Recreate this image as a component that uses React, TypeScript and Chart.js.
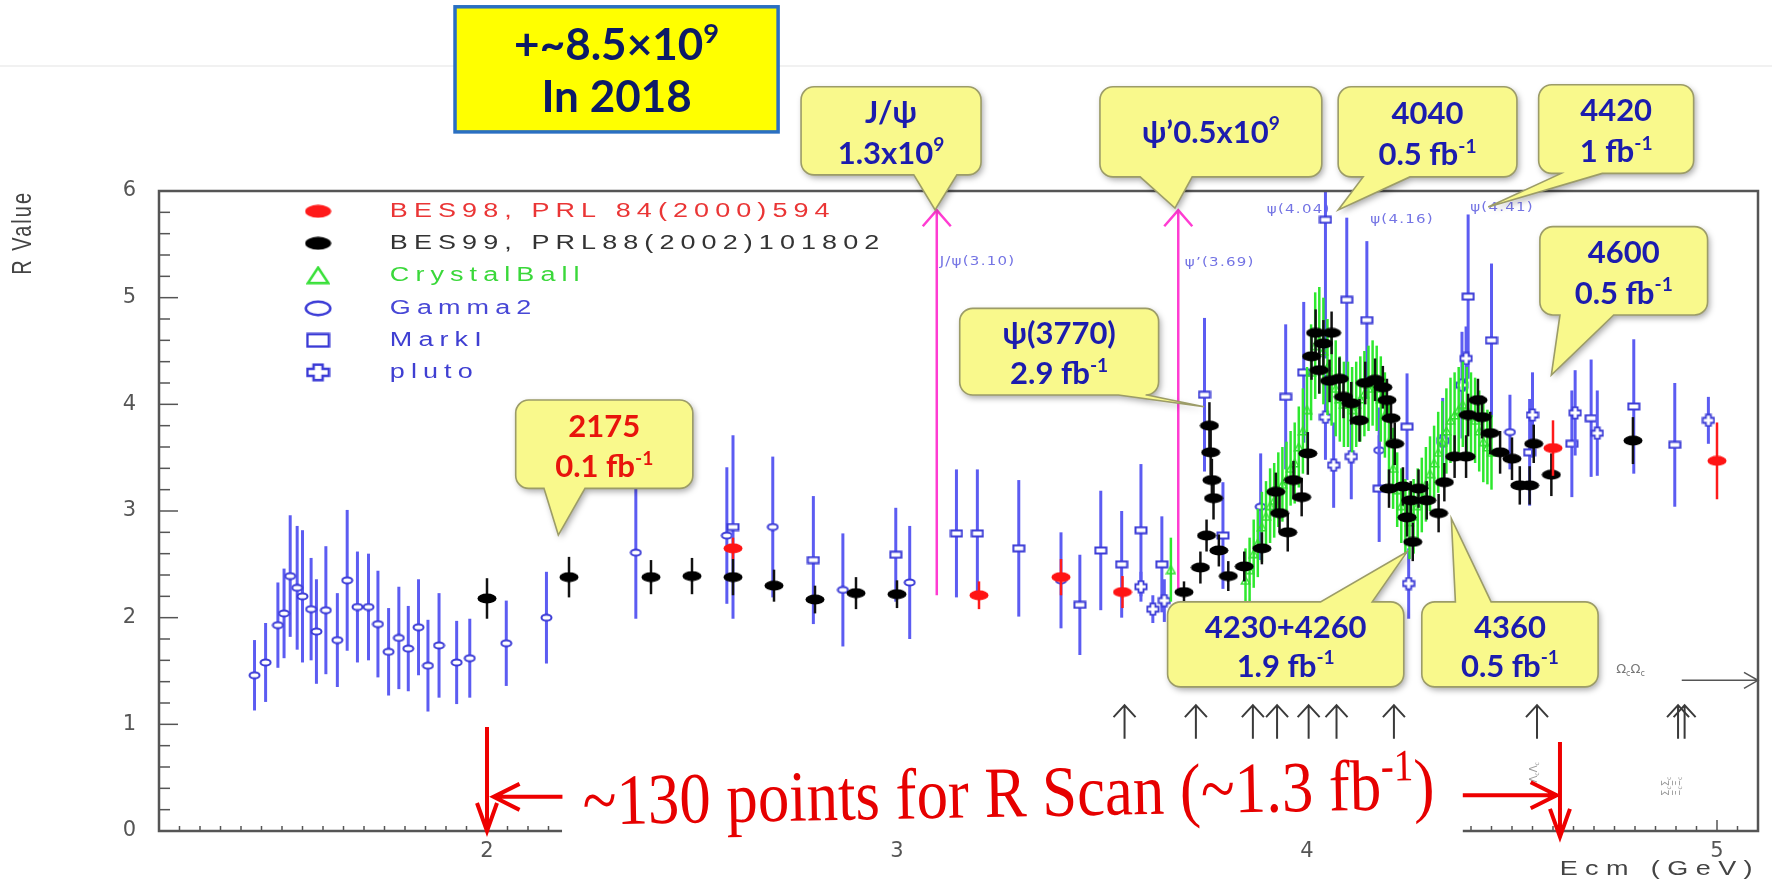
import React, { useEffect, useRef } from "react";
import { Chart, registerables } from "chart.js";

Chart.register(...registerables);

// ---------------- axes ----------------
const X_MIN = 1.2;
const X_MAX = 5.1;
const Y_MIN = 0;
const Y_MAX = 6;
const X_TICKS = [2, 3, 4, 5];
const Y_TICKS = [0, 1, 2, 3, 4, 5, 6];

// ---------------- data (Ecm in GeV, R value, error) ----------------
const BES98_E = [2.6, 3.2, 3.4, 3.55, 4.6, 5.0];
const BES98_R = [2.65, 2.21, 2.38, 2.24, 3.59, 3.47];
const BES98_ERR = [0.1, 0.13, 0.17, 0.15, 0.26, 0.36];

const BES99_E = [2.0, 2.2, 2.4, 2.5, 2.6, 2.7, 2.8, 2.9, 3.0, 3.7, 3.74, 3.755, 3.762, 3.765, 3.768, 3.772, 3.785, 3.808, 3.847, 3.89, 3.924, 3.933, 3.953, 3.967, 3.987, 4.002, 4.011, 4.021, 4.03, 4.04, 4.055, 4.06, 4.079, 4.089, 4.108, 4.128, 4.142, 4.166, 4.185, 4.195, 4.2, 4.205, 4.214, 4.234, 4.244, 4.253, 4.258, 4.272, 4.292, 4.321, 4.335, 4.36, 4.388, 4.393, 4.417, 4.427, 4.447, 4.471, 4.5, 4.519, 4.543, 4.553, 4.596, 4.795];
const BES99_R = [2.18, 2.38, 2.38, 2.39, 2.38, 2.30, 2.17, 2.23, 2.22, 2.24, 2.47, 2.77, 3.80, 3.55, 3.29, 3.12, 2.63, 2.39, 2.48, 2.65, 3.18, 2.98, 2.80, 3.29, 3.13, 3.54, 4.45, 4.67, 4.32, 4.57, 4.22, 4.67, 4.24, 4.07, 4.01, 3.85, 4.20, 4.23, 4.16, 4.04, 3.21, 3.87, 3.63, 3.23, 2.94, 3.10, 2.71, 3.21, 3.10, 2.98, 3.27, 3.51, 3.51, 3.90, 4.04, 3.88, 3.73, 3.55, 3.49, 3.24, 3.24, 3.63, 3.34, 3.66];
const BES99_ERR = [0.19, 0.19, 0.16, 0.17, 0.17, 0.15, 0.13, 0.15, 0.13, 0.10, 0.15, 0.15, 0.22, 0.22, 0.20, 0.20, 0.15, 0.14, 0.14, 0.15, 0.18, 0.18, 0.18, 0.18, 0.18, 0.20, 0.22, 0.22, 0.22, 0.22, 0.20, 0.20, 0.20, 0.20, 0.20, 0.20, 0.20, 0.20, 0.20, 0.20, 0.18, 0.20, 0.20, 0.18, 0.18, 0.18, 0.18, 0.18, 0.18, 0.18, 0.18, 0.20, 0.20, 0.20, 0.20, 0.20, 0.20, 0.20, 0.20, 0.18, 0.18, 0.18, 0.20, 0.22];

const CB_E = [3.668, 3.85, 3.86, 3.87, 3.88, 3.89, 3.90, 3.91, 3.92, 3.93, 3.94, 3.95, 3.96, 3.97, 3.98, 3.99, 4.00, 4.01, 4.02, 4.03, 4.04, 4.05, 4.06, 4.07, 4.08, 4.09, 4.10, 4.11, 4.12, 4.13, 4.14, 4.15, 4.16, 4.17, 4.18, 4.19, 4.20, 4.21, 4.22, 4.23, 4.24, 4.25, 4.26, 4.27, 4.28, 4.29, 4.30, 4.31, 4.32, 4.33, 4.34, 4.35, 4.36, 4.37, 4.38, 4.39, 4.40, 4.41, 4.42, 4.43, 4.44, 4.45];
const CB_R = [2.45, 2.35, 2.45, 2.60, 2.70, 2.85, 2.95, 3.05, 3.10, 3.20, 3.25, 3.30, 3.40, 3.45, 3.60, 3.75, 3.95, 4.30, 4.55, 4.60, 4.50, 4.35, 4.25, 4.15, 4.05, 4.00, 4.00, 3.95, 4.00, 4.05, 4.10, 4.15, 4.20, 4.15, 4.05, 3.90, 3.65, 3.40, 3.20, 3.05, 2.95, 2.90, 2.95, 3.05, 3.15, 3.25, 3.35, 3.45, 3.55, 3.65, 3.75, 3.85, 3.90, 3.95, 4.00, 3.95, 3.90, 3.85, 3.75, 3.65, 3.60, 3.55];
const CB_ERR = [0.30, 0.30, 0.30, 0.32, 0.32, 0.33, 0.33, 0.35, 0.35, 0.35, 0.35, 0.35, 0.35, 0.38, 0.38, 0.40, 0.40, 0.45, 0.50, 0.50, 0.50, 0.45, 0.45, 0.45, 0.40, 0.40, 0.40, 0.40, 0.40, 0.40, 0.40, 0.40, 0.40, 0.40, 0.40, 0.40, 0.40, 0.38, 0.35, 0.35, 0.35, 0.35, 0.35, 0.35, 0.35, 0.35, 0.35, 0.35, 0.38, 0.38, 0.40, 0.40, 0.40, 0.40, 0.40, 0.40, 0.40, 0.40, 0.38, 0.38, 0.35, 0.35];

const GAMMA2_E = [1.433, 1.46, 1.49, 1.505, 1.52, 1.537, 1.55, 1.571, 1.584, 1.607, 1.635, 1.659, 1.684, 1.711, 1.734, 1.76, 1.785, 1.808, 1.833, 1.856, 1.883, 1.926, 1.958, 2.047, 2.145, 2.363, 2.585, 2.697, 2.868, 3.031, 3.4, 3.887, 4.176, 4.495];
const GAMMA2_R = [1.46, 1.58, 1.93, 2.04, 2.39, 2.28, 2.20, 2.08, 1.87, 2.07, 1.79, 2.35, 2.10, 2.10, 1.94, 1.68, 1.81, 1.71, 1.91, 1.55, 1.74, 1.58, 1.62, 1.76, 2.00, 2.61, 2.77, 2.85, 2.26, 2.33, 2.35, 3.04, 3.57, 3.74];
const GAMMA2_ERR = [0.33, 0.37, 0.40, 0.42, 0.57, 0.58, 0.62, 0.48, 0.49, 0.60, 0.44, 0.66, 0.52, 0.50, 0.50, 0.41, 0.48, 0.40, 0.45, 0.43, 0.49, 0.39, 0.37, 0.40, 0.43, 0.62, 0.64, 0.66, 0.53, 0.53, 0.45, 0.50, 0.40, 0.35];

const MARKI_E = [2.6, 2.796, 2.997, 3.145, 3.196, 3.297, 3.446, 3.497, 3.548, 3.595, 3.646, 3.75, 3.795, 3.948, 3.992, 4.045, 4.097, 4.146, 4.176, 4.244, 4.393, 4.45, 4.543, 4.646, 4.693, 4.797, 4.897];
const MARKI_R = [2.85, 2.54, 2.59, 2.79, 2.79, 2.65, 2.12, 2.63, 2.50, 2.82, 2.50, 4.09, 2.77, 4.07, 4.30, 5.73, 4.98, 4.79, 3.21, 3.79, 5.01, 4.60, 3.55, 3.63, 3.87, 3.98, 3.62];
const MARKI_ERR = [0.86, 0.60, 0.44, 0.60, 0.60, 0.64, 0.47, 0.56, 0.50, 0.62, 0.45, 0.72, 0.50, 0.68, 0.66, 1.30, 0.77, 0.74, 0.50, 0.50, 0.77, 0.72, 0.50, 0.50, 0.55, 0.63, 0.58];

const PLUTO_E = [3.595, 3.624, 3.652, 4.045, 4.065, 4.108, 4.248, 4.331, 4.378, 4.388, 4.55, 4.654, 4.708, 4.979];
const PLUTO_R = [2.29, 2.08, 2.16, 3.88, 3.43, 3.51, 2.32, 3.66, 4.18, 4.43, 3.90, 3.92, 3.73, 3.85];
const PLUTO_ERR = [0.14, 0.13, 0.20, 0.40, 0.40, 0.40, 0.33, 0.40, 0.50, 0.30, 0.40, 0.40, 0.40, 0.22];

const LEGEND_LABELS = ["BES98, PRL 84(2000)594", "BES99, PRL88(2002)101802", "CrystalBall", "Gamma2", "MarkI", "pluto"];

// ---------------- annotations (in data coordinates) ----------------
const RESONANCE_E = [3.097, 3.686];
const RESONANCE_LOW = [2.21, 2.23];
const RESONANCE_TIP = 5.82;
const RES_LABEL_TEXT = ["J/ψ(3.10)", "ψ’(3.69)", "ψ(4.04)", "ψ(4.16)", "ψ(4.41)"];
const RES_LABEL_E = [3.104, 3.702, 3.902, 4.154, 4.398];
const RES_LABEL_R = [5.34, 5.33, 5.82, 5.73, 5.84];

const THRESHOLD_E = [3.555, 3.729, 3.868, 3.927, 4.004, 4.072, 4.212, 4.561, 4.905, 4.921];
const THRESHOLD_LOW = 0.866;
const THRESHOLD_TIP = 1.18;

const TINY_TEXT = ["Λ_{c}Λ_{c}", "Σ_{c}Σ_{c}", "Ξ_{c}Ξ_{c}"];
const TINY_E = [4.552, 4.872, 4.9];
const TINY_R = [0.55, 0.42, 0.42];

const NAVY = "#1c1cae";
const CALLOUTS = [
  { lines: ["J/ψ", "1.3x10^{9}"], e1: 2.766, e2: 3.205, rTop: 6.977, rBot: 6.151, tail: [3.041, 3.146, 3.093, 5.822], color: NAVY },
  { lines: ["ψ’0.5x10^{9}"], e1: 3.495, e2: 4.036, rTop: 6.977, rBot: 6.132, tail: [3.593, 3.72, 3.678, 5.84], color: NAVY },
  { lines: ["4040", "0.5 fb^{-1}"], e1: 4.076, e2: 4.512, rTop: 6.977, rBot: 6.132, tail: [4.137, 4.251, 4.076, 5.822], color: NAVY },
  { lines: ["4420", "1 fb^{-1}"], e1: 4.565, e2: 4.943, rTop: 6.996, rBot: 6.165, tail: [4.62, 4.72, 4.442, 5.85], color: NAVY },
  { lines: ["4600", "0.5 fb^{-1}"], e1: 4.568, e2: 4.977, rTop: 5.666, rBot: 4.838, tail: [4.617, 4.748, 4.596, 4.275], color: NAVY },
  { lines: ["ψ(3770)", "2.9 fb^{-1}"], e1: 3.153, e2: 3.638, rTop: 4.9, rBot: 4.087, tail: [3.54, 3.61, 3.749, 3.977], color: NAVY },
  { lines: ["2175", "0.1 fb^{-1}"], e1: 2.07, e2: 2.502, rTop: 4.04, rBot: 3.212, tail: [2.139, 2.239, 2.174, 2.774], color: "#e8140c" },
  { lines: ["4230+4260", "1.9 fb^{-1}"], e1: 3.66, e2: 4.236, rTop: 2.148, rBot: 1.351, tail: [4.033, 4.159, 4.244, 2.617], color: NAVY },
  { lines: ["4360", "0.5 fb^{-1}"], e1: 4.28, e2: 4.71, rTop: 2.148, rBot: 1.351, tail: [4.362, 4.449, 4.352, 2.93], color: NAVY },
];
const TOP_BOX = { lines: ["+~8.5×10^{9}", "In 2018"], e1: 1.922, e2: 2.71, rTop: 7.727, rBot: 6.554 };
const SEPARATOR_R = 7.173;

const SCAN_TEXT = "~130 points for R Scan (~1.3 fb^{-1})";
const SCAN_START = [2.234, 0.06];
const SCAN_END = [4.312, 0.21];
const SCAN_BOX = [2.183, 4.38, -0.07, 0.8];
const RED_VERT = [[2.0, 0.975, 0.0], [4.617, 0.835, -0.055]];
const RED_HORIZ = [[0.32, 2.184, 2.016], [0.335, 4.38, 4.609]];

const OMEGA_ARROW = [4.914, 1.413];
const OMEGA_LABEL = [4.754, 1.525];

// ---------------- helpers ----------------
function parseRich(s: string) {
  const out: { t: string; k: number }[] = [];
  const re = /\^\{([^}]*)\}|_\{([^}]*)\}/g;
  let last = 0;
  let m: any;
  while ((m = re.exec(s))) {
    if (m.index > last) out.push({ t: s.slice(last, m.index), k: 0 });
    if (m[1] !== undefined) out.push({ t: m[1], k: 1 });
    else out.push({ t: m[2], k: 2 });
    last = re.lastIndex;
  }
  if (last < s.length) out.push({ t: s.slice(last), k: 0 });
  return out;
}

function richText(ctx: any, s: string, x: number, y: number, size: number, font: (sz: number) => string, align: string, draw = true) {
  const segs = parseRich(s);
  const widths = segs.map((sg) => {
    ctx.font = font(sg.k ? size * 0.62 : size);
    return ctx.measureText(sg.t).width;
  });
  const total = widths.reduce((a, b) => a + b, 0);
  if (!draw) return total;
  let cx = align === "center" ? x - total / 2 : align === "right" ? x - total : x;
  ctx.textAlign = "left";
  ctx.textBaseline = "alphabetic";
  segs.forEach((sg, i) => {
    ctx.font = font(sg.k ? size * 0.62 : size);
    const dy = sg.k === 1 ? -size * 0.4 : sg.k === 2 ? size * 0.2 : 0;
    ctx.fillText(sg.t, cx, y + dy);
    cx += widths[i];
  });
  return total;
}

function mk(w: number, h: number, draw: (c: CanvasRenderingContext2D) => void) {
  const cv = document.createElement("canvas");
  cv.width = w;
  cv.height = h;
  draw(cv.getContext("2d") as CanvasRenderingContext2D);
  return cv;
}
const filledEllipse = (color: string, w: number, h: number) =>
  mk(w, h, (c) => {
    c.fillStyle = color;
    c.beginPath();
    c.ellipse(w / 2, h / 2, w / 2 - 0.5, h / 2 - 0.5, 0, 0, Math.PI * 2);
    c.fill();
  });
const openEllipse = (color: string, w: number, h: number, lw: number) =>
  mk(w, h, (c) => {
    c.fillStyle = "#fff";
    c.strokeStyle = color;
    c.lineWidth = lw;
    c.beginPath();
    c.ellipse(w / 2, h / 2, w / 2 - lw / 2 - 0.5, h / 2 - lw / 2 - 0.5, 0, 0, Math.PI * 2);
    c.fill();
    c.stroke();
  });
const openRect = (color: string, w: number, h: number, lw: number) =>
  mk(w, h, (c) => {
    c.fillStyle = "#fff";
    c.strokeStyle = color;
    c.lineWidth = lw;
    c.beginPath();
    c.rect(lw / 2 + 0.5, lw / 2 + 0.5, w - lw - 1, h - lw - 1);
    c.fill();
    c.stroke();
  });
const openPlus = (color: string, w: number, h: number, lw: number) =>
  mk(w, h, (c) => {
    const a = w * 0.18, b = h * 0.18, cx = w / 2, cy = h / 2, m = lw / 2 + 0.5;
    c.fillStyle = "#fff";
    c.strokeStyle = color;
    c.lineWidth = lw;
    c.beginPath();
    c.moveTo(cx - a, m);
    c.lineTo(cx + a, m);
    c.lineTo(cx + a, cy - b);
    c.lineTo(w - m, cy - b);
    c.lineTo(w - m, cy + b);
    c.lineTo(cx + a, cy + b);
    c.lineTo(cx + a, h - m);
    c.lineTo(cx - a, h - m);
    c.lineTo(cx - a, cy + b);
    c.lineTo(m, cy + b);
    c.lineTo(m, cy - b);
    c.lineTo(cx - a, cy - b);
    c.closePath();
    c.fill();
    c.stroke();
  });
const openTri = (color: string, w: number, h: number, lw: number) =>
  mk(w, h, (c) => {
    const m = lw / 2 + 0.5;
    c.strokeStyle = color;
    c.lineWidth = lw;
    c.beginPath();
    c.moveTo(w / 2, m);
    c.lineTo(w - m, h - m);
    c.lineTo(m, h - m);
    c.closePath();
    c.stroke();
  });

const pts = (e: number[], r: number[]) => e.map((v, i) => ({ x: v, y: r[i] }));

function calloutPath(ctx: any, x1: number, y1: number, x2: number, y2: number, r: number, tail: any) {
  ctx.beginPath();
  ctx.moveTo(x1 + r, y1);
  if (tail && tail.edge === "top") {
    ctx.lineTo(tail.b1, y1);
    ctx.lineTo(tail.tx, tail.ty);
    ctx.lineTo(tail.b2, y1);
  }
  ctx.lineTo(x2 - r, y1);
  ctx.arcTo(x2, y1, x2, y1 + r, r);
  ctx.lineTo(x2, y2 - r);
  ctx.arcTo(x2, y2, x2 - r, y2, r);
  if (tail && tail.edge === "bottom") {
    ctx.lineTo(tail.b2, y2);
    ctx.lineTo(tail.tx, tail.ty);
    ctx.lineTo(tail.b1, y2);
  }
  ctx.lineTo(x1 + r, y2);
  ctx.arcTo(x1, y2, x1, y2 - r, r);
  ctx.lineTo(x1, y1 + r);
  ctx.arcTo(x1, y1, x1 + r, y1, r);
  ctx.closePath();
}

const calloutFont = (sz: number) => `bold ${sz}px Lato, "DejaVu Sans", sans-serif`;

// ---------------- plugins ----------------
const errorBarPlugin = {
  id: "errorBars",
  beforeDatasetDraw(chart: any, args: any) {
    const ds = chart.data.datasets[args.index];
    if (!ds.errs) return;
    const ctx = chart.ctx;
    const ys = chart.scales.y;
    const a = chart.chartArea;
    ctx.save();
    ctx.beginPath();
    ctx.rect(a.left, a.top, a.right - a.left, a.bottom - a.top);
    ctx.clip();
    ctx.strokeStyle = ds.errColor;
    ctx.lineWidth = ds.errWidth;
    args.meta.data.forEach((p: any, i: number) => {
      const v = ds.data[i].y;
      const e = ds.errs[i];
      ctx.beginPath();
      ctx.moveTo(p.x, ys.getPixelForValue(v + e));
      ctx.lineTo(p.x, ys.getPixelForValue(v - e));
      ctx.stroke();
    });
    ctx.restore();
  },
};

const framePlugin = {
  id: "frame",
  afterDatasetsDraw(chart: any) {
    const { ctx, chartArea: a } = chart;
    const xs = chart.scales.x, ys = chart.scales.y;
    ctx.save();
    ctx.strokeStyle = "#555";
    ctx.lineWidth = 1.5;
    for (let i = 0; i <= 30; i++) {
      const yy = ys.getPixelForValue(i * 0.2);
      const len = i % 5 === 0 ? 19 : 11;
      ctx.beginPath();
      ctx.moveTo(a.left, yy);
      ctx.lineTo(a.left + len, yy);
      ctx.stroke();
    }
    for (let i = 25; i <= 101; i++) {
      const v = i * 0.05;
      if (v < X_MIN || v > X_MAX) continue;
      const xx = xs.getPixelForValue(v);
      const len = i % 20 === 0 ? 11 : 5;
      ctx.beginPath();
      ctx.moveTo(xx, a.bottom);
      ctx.lineTo(xx, a.bottom - len);
      ctx.stroke();
    }
    ctx.lineWidth = 2.5;
    ctx.strokeRect(a.left, a.top, a.right - a.left, a.bottom - a.top);
    ctx.restore();
  },
};

function stretchedText(ctx: any, text: string, x: number, y: number, font: string, color: string, sx: number, spacing: number, align = "left", baseline = "middle") {
  ctx.save();
  ctx.translate(x, y);
  ctx.scale(sx, 1);
  ctx.font = font;
  ctx.letterSpacing = spacing + "px";
  ctx.fillStyle = color;
  ctx.textAlign = align;
  ctx.textBaseline = baseline;
  ctx.fillText(text, 0, 0);
  ctx.restore();
}

function makeAnnotationPlugin(legendMarkers: any[], legendColors: string[]) {
  return {
    id: "annotations",
    beforeDatasetsDraw(chart: any) {
      const ctx = chart.ctx;
      const X = (v: number) => chart.scales.x.getPixelForValue(v);
      const Y = (v: number) => chart.scales.y.getPixelForValue(v);
      ctx.save();
      ctx.strokeStyle = "#ff3cd2";
      ctx.lineWidth = 2.5;
      RESONANCE_E.forEach((e, i) => {
        const x = X(e), y0 = Y(RESONANCE_LOW[i]), y1 = Y(RESONANCE_TIP);
        ctx.beginPath();
        ctx.moveTo(x, y0);
        ctx.lineTo(x, y1);
        ctx.stroke();
        ctx.beginPath();
        ctx.moveTo(x - 14, y1 + 16);
        ctx.lineTo(x, y1);
        ctx.lineTo(x + 14, y1 + 16);
        ctx.stroke();
      });
      RES_LABEL_TEXT.forEach((t, i) => {
        stretchedText(ctx, t, X(RES_LABEL_E[i]), Y(RES_LABEL_R[i]), '12px "DejaVu Sans", sans-serif', "#7474e4", 1.25, 1);
      });
      ctx.restore();
    },
    afterDraw(chart: any) {
      const ctx = chart.ctx;
      const a = chart.chartArea;
      const X = (v: number) => chart.scales.x.getPixelForValue(v);
      const Y = (v: number) => chart.scales.y.getPixelForValue(v);
      ctx.save();

      // slide separator line
      ctx.strokeStyle = "#ececec";
      ctx.lineWidth = 1.5;
      ctx.beginPath();
      ctx.moveTo(0, Y(SEPARATOR_R));
      ctx.lineTo(chart.width, Y(SEPARATOR_R));
      ctx.stroke();

      // axis titles
      ctx.save();
      ctx.translate(a.left - 135, a.top);
      ctx.rotate(-Math.PI / 2);
      ctx.scale(1, 1.35);
      ctx.font = '20px "Liberation Sans", Arial, sans-serif';
      ctx.letterSpacing = "2px";
      ctx.fillStyle = "#444";
      ctx.textAlign = "right";
      ctx.textBaseline = "middle";
      ctx.fillText("R Value", 0, 0);
      ctx.restore();
      stretchedText(ctx, "Ecm (GeV)", a.right + 2, a.bottom + 44, '20px "Liberation Sans", Arial, sans-serif', "#444", 1.35, 5.5, "right", "alphabetic");

      // legend
      const legendRows = [5.81, 5.51, 5.21, 4.9, 4.6, 4.3];
      LEGEND_LABELS.forEach((lab, i) => {
        const m = legendMarkers[i];
        const yy = Y(legendRows[i]);
        ctx.drawImage(m, X(1.588) - m.width / 2, yy - m.height / 2);
        stretchedText(ctx, lab, X(1.763), yy, '20px "Liberation Sans", Arial, sans-serif', legendColors[i], 1.35, 4.5);
      });

      // threshold arrows
      ctx.strokeStyle = "#3a3a3a";
      ctx.lineWidth = 2;
      THRESHOLD_E.forEach((e) => {
        const x = X(e), y0 = Y(THRESHOLD_LOW), y1 = Y(THRESHOLD_TIP);
        ctx.beginPath();
        ctx.moveTo(x, y0);
        ctx.lineTo(x, y1);
        ctx.moveTo(x - 11, y1 + 12);
        ctx.lineTo(x, y1);
        ctx.lineTo(x + 11, y1 + 12);
        ctx.stroke();
      });

      // Omega_c arrow
      ctx.strokeStyle = "#555";
      ctx.lineWidth = 1.5;
      const oy = Y(OMEGA_ARROW[1]);
      ctx.beginPath();
      ctx.moveTo(X(OMEGA_ARROW[0]), oy);
      ctx.lineTo(a.right, oy);
      ctx.moveTo(a.right - 14, oy - 8);
      ctx.lineTo(a.right, oy);
      ctx.lineTo(a.right - 14, oy + 8);
      ctx.stroke();
      ctx.fillStyle = "#777";
      richText(ctx, "Ω_{c}Ω_{c}", X(OMEGA_LABEL[0]), Y(OMEGA_LABEL[1]) + 5, 13, (sz) => `${sz}px "DejaVu Sans", sans-serif`, "left");
      TINY_TEXT.forEach((t, i) => {
        ctx.save();
        ctx.translate(X(TINY_E[i]), Y(TINY_R[i]));
        ctx.rotate(-Math.PI / 2);
        ctx.fillStyle = "#9a9a9a";
        richText(ctx, t, 0, 4, 10, (sz) => `${sz}px "DejaVu Sans", sans-serif`, "center");
        ctx.restore();
      });

      // scan text with white background
      ctx.fillStyle = "#fff";
      ctx.fillRect(X(SCAN_BOX[0]), Y(SCAN_BOX[3]), X(SCAN_BOX[1]) - X(SCAN_BOX[0]), Y(SCAN_BOX[2]) - Y(SCAN_BOX[3]));
      const p1x = X(SCAN_START[0]), p1y = Y(SCAN_START[1]);
      const p2x = X(SCAN_END[0]), p2y = Y(SCAN_END[1]);
      const serif = (sz: number) => `${sz}px "Liberation Serif", "Times New Roman", serif`;
      const natural = richText(ctx, SCAN_TEXT, 0, 0, 72, serif, "left", false);
      const len = Math.hypot(p2x - p1x, p2y - p1y);
      ctx.save();
      ctx.translate(p1x, p1y);
      ctx.rotate(Math.atan2(p2y - p1y, p2x - p1x));
      ctx.scale(len / natural, 1);
      ctx.fillStyle = "#e60000";
      richText(ctx, SCAN_TEXT, 0, 0, 72, serif, "left");
      ctx.restore();

      // red arrows
      ctx.strokeStyle = "#ee0000";
      ctx.lineWidth = 4;
      ctx.lineCap = "butt";
      RED_VERT.forEach(([e, r0, r1]) => {
        const x = X(e), y0 = Y(r0), y1 = Y(r1);
        ctx.beginPath();
        ctx.moveTo(x, y0);
        ctx.lineTo(x, y1);
        ctx.moveTo(x - 10, y1 - 28);
        ctx.lineTo(x, y1);
        ctx.lineTo(x + 10, y1 - 28);
        ctx.stroke();
      });
      RED_HORIZ.forEach(([r, e0, e1]) => {
        const y = Y(r), x0 = X(e0), x1 = X(e1);
        const d = x1 > x0 ? -1 : 1;
        ctx.beginPath();
        ctx.moveTo(x0, y);
        ctx.lineTo(x1, y);
        ctx.moveTo(x1 + d * 26, y - 13);
        ctx.lineTo(x1, y);
        ctx.lineTo(x1 + d * 26, y + 13);
        ctx.stroke();
      });

      // callouts
      CALLOUTS.forEach((c) => {
        const x1 = X(c.e1), x2 = X(c.e2), y1 = Y(c.rTop), y2 = Y(c.rBot);
        const ty = Y(c.tail[3]);
        const tail = { b1: X(c.tail[0]), b2: X(c.tail[1]), tx: X(c.tail[2]), ty, edge: ty < y1 ? "top" : "bottom" };
        ctx.save();
        ctx.shadowColor = "rgba(0,0,0,0.35)";
        ctx.shadowBlur = 6;
        ctx.shadowOffsetX = 2;
        ctx.shadowOffsetY = 3;
        calloutPath(ctx, x1, y1, x2, y2, 13, tail);
        ctx.fillStyle = "#f9f98c";
        ctx.fill();
        ctx.restore();
        calloutPath(ctx, x1, y1, x2, y2, 13, tail);
        ctx.strokeStyle = "#9c9c68";
        ctx.lineWidth = 1.6;
        ctx.stroke();
        ctx.fillStyle = c.color;
        const h = y2 - y1;
        const fr = c.lines.length === 1 ? [0.5] : [0.29, 0.75];
        c.lines.forEach((ln, i) => {
          richText(ctx, ln, (x1 + x2) / 2, y1 + h * fr[i] + 11, 31, calloutFont, "center");
        });
      });

      // top-left box
      const bx1 = X(TOP_BOX.e1), bx2 = X(TOP_BOX.e2), by1 = Y(TOP_BOX.rTop), by2 = Y(TOP_BOX.rBot);
      ctx.fillStyle = "#ffff00";
      ctx.fillRect(bx1, by1, bx2 - bx1, by2 - by1);
      ctx.strokeStyle = "#2a6fc2";
      ctx.lineWidth = 3.5;
      ctx.strokeRect(bx1, by1, bx2 - bx1, by2 - by1);
      ctx.fillStyle = "#0c1a66";
      const bh = by2 - by1;
      [0.3, 0.71].forEach((f, i) => {
        richText(ctx, TOP_BOX.lines[i], (bx1 + bx2) / 2, by1 + bh * f + 16, 44, calloutFont, "center");
      });

      ctx.restore();
    },
  };
}

export default function App() {
  const ref = useRef<HTMLCanvasElement>(null);
  useEffect(() => {
    const blue = "#3b3bd6";
    const errBlue = "#5c5cf2";
    const mRed = filledEllipse("#ff1414", 20, 11);
    const mBlack = filledEllipse("#000000", 20, 11);
    const mTri = openTri("#2fdc2f", 11, 10, 1.5);
    const mCircle = openEllipse(blue, 13, 9, 2);
    const mRect = openRect(blue, 14, 9, 2);
    const mPlus = openPlus(blue, 14, 14, 1.8);

    const legendMarkers = [
      filledEllipse("#ff1a1a", 27, 14),
      filledEllipse("#000000", 27, 14),
      openTri("#38e038", 24, 19, 2.5),
      openEllipse("#3b3bd6", 28, 17, 2.5),
      openRect("#3b3bd6", 25, 16, 2.5),
      openPlus("#3b3bd6", 25, 19, 2.5),
    ];
    const legendColors = ["#ea3535", "#333333", "#3ad83a", "#4747d6", "#3f3fd2", "#3f3fd2"];

    const common = { showLine: false, pointRadius: 5, pointHoverRadius: 5, pointBorderWidth: 0 };
    const datasets: any[] = [
      { ...common, label: LEGEND_LABELS[0], data: pts(BES98_E, BES98_R), errs: BES98_ERR, errColor: "#ff1a1a", errWidth: 2.5, pointStyle: mRed },
      { ...common, label: LEGEND_LABELS[1], data: pts(BES99_E, BES99_R), errs: BES99_ERR, errColor: "#111", errWidth: 2.5, pointStyle: mBlack },
      { ...common, label: LEGEND_LABELS[2], data: pts(CB_E, CB_R), errs: CB_ERR, errColor: "#2ee82e", errWidth: 2.5, pointStyle: mTri },
      { ...common, label: LEGEND_LABELS[5], data: pts(PLUTO_E, PLUTO_R), errs: PLUTO_ERR, errColor: errBlue, errWidth: 3, pointStyle: mPlus },
      { ...common, label: LEGEND_LABELS[4], data: pts(MARKI_E, MARKI_R), errs: MARKI_ERR, errColor: errBlue, errWidth: 3, pointStyle: mRect },
      { ...common, label: LEGEND_LABELS[3], data: pts(GAMMA2_E, GAMMA2_R), errs: GAMMA2_ERR, errColor: errBlue, errWidth: 3, pointStyle: mCircle },
    ];

    const tickFont = { family: '"DejaVu Sans", sans-serif', size: 21 };
    const chart = new Chart(ref.current as HTMLCanvasElement, {
      type: "scatter",
      data: { datasets },
      options: {
        animation: false,
        responsive: false,
        devicePixelRatio: 1,
        events: [],
        layout: { padding: { top: 191, right: 14, left: 0, bottom: 0 } },
        plugins: { legend: { display: false }, tooltip: { enabled: false } },
        scales: {
          x: {
            type: "linear",
            min: X_MIN,
            max: X_MAX,
            grid: { display: false, drawTicks: false },
            border: { display: false },
            ticks: { font: tickFont, color: "#555", padding: 8, maxRotation: 0 },
            afterBuildTicks: (s: any) => {
              s.ticks = X_TICKS.map((v) => ({ value: v }));
            },
            afterFit: (s: any) => {
              s.height = 55;
            },
          },
          y: {
            type: "linear",
            min: Y_MIN,
            max: Y_MAX,
            grid: { display: false, drawTicks: false },
            border: { display: false },
            ticks: { font: tickFont, color: "#555", padding: 23 },
            afterBuildTicks: (s: any) => {
              s.ticks = Y_TICKS.map((v) => ({ value: v }));
            },
            afterFit: (s: any) => {
              s.width = 159;
            },
          },
        },
      } as any,
      plugins: [errorBarPlugin, framePlugin, makeAnnotationPlugin(legendMarkers, legendColors)],
    });
    return () => chart.destroy();
  }, []);

  return (
    <div style={{ position: "fixed", left: 0, top: 0, width: 1772, height: 886, background: "#fff" }}>
      <canvas ref={ref} width={1772} height={886} style={{ display: "block", width: 1772, height: 886 }} />
    </div>
  );
}
